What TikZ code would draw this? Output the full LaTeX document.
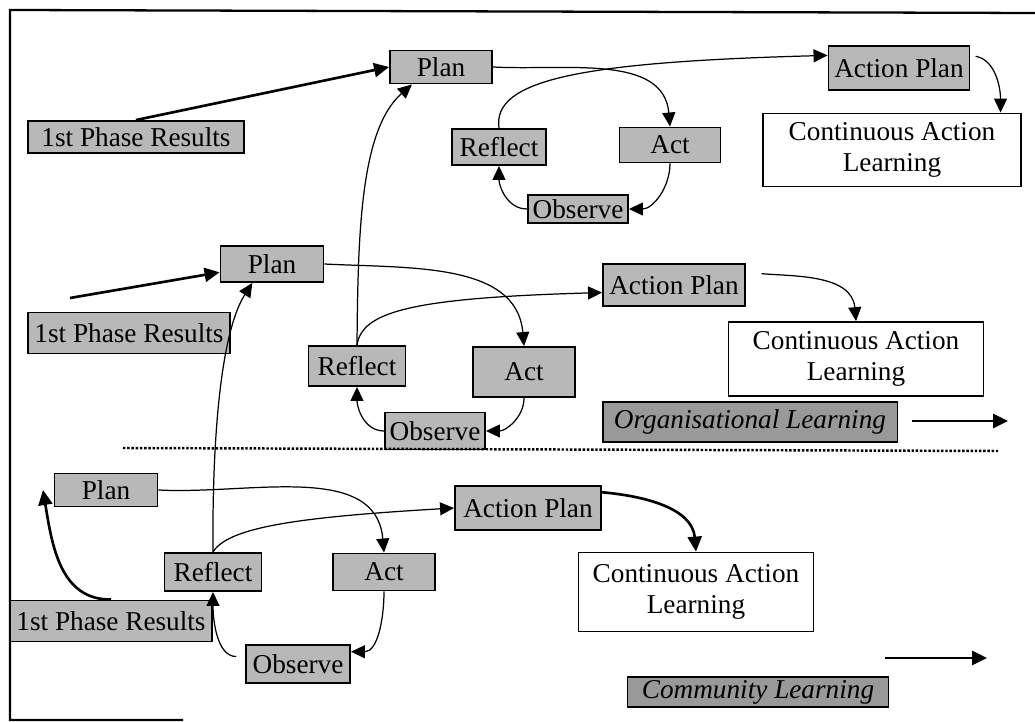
\documentclass[tikz,border=0pt]{standalone}
\usepackage{fontspec}
\setmainfont{Liberation Serif}
\usetikzlibrary{arrows.meta}

\begin{document}
\begin{tikzpicture}[
  x=0.02cm, y=-0.02cm,
  every node/.style={font=\fontsize{15.5}{18}\selectfont, inner sep=1pt},
  stagebox/.style={draw, line width=1.1pt, fill=black!28},
  outcomebox/.style={draw, line width=1pt, fill=white, align=center},
  levelbox/.style={draw, line width=1.1pt, fill=black!40, font=\fontsize{15.5}{18}\selectfont\itshape},
  arr/.style={-{Triangle[length=2.8mm, width=2.6mm]}, line width=0.7pt},
  thickarr/.style={-{Triangle[length=3mm, width=2.8mm]}, line width=1.5pt}
]
  \useasboundingbox (0,0) rectangle (1035,722);
  \draw[line width=1.3pt] (1035,13) -- (10,10) -- (10,720) -- (183,720);

  % first cycle
  \node[stagebox, minimum width=2.04cm, minimum height=0.66cm] (plan1) at (441,67) {Plan};
  \node[stagebox, minimum width=4.32cm, minimum height=0.64cm] (phase1) at (136,137) {1st Phase Results};
  \node[stagebox, minimum width=1.88cm, minimum height=0.72cm] (reflect1) at (499,147) {Reflect};
  \node[stagebox, minimum width=2.02cm, minimum height=0.70cm] (act1) at (670,145) {Act};
  \node[stagebox, minimum width=2.00cm, minimum height=0.56cm] (observe1) at (578,209) {Observe};
  \node[stagebox, minimum width=2.82cm, minimum height=0.88cm] (actplan1) at (899,68) {Action Plan};
  \node[outcomebox, minimum width=5.16cm, minimum height=1.46cm] (cal1) at (892,150) {Continuous Action\\Learning};

  % second cycle
  \node[stagebox, minimum width=2.06cm, minimum height=0.72cm] (plan2) at (272,264) {Plan};
  \node[stagebox, minimum width=4.04cm, minimum height=0.82cm] (phase2) at (129,333) {1st Phase Results};
  \node[stagebox, minimum width=1.94cm, minimum height=0.80cm] (reflect2) at (357,366) {Reflect};
  \node[stagebox, minimum width=2.04cm, minimum height=1.00cm] (act2) at (524,372) {Act};
  \node[stagebox, minimum width=2.00cm, minimum height=0.74cm] (observe2) at (435,431) {Observe};
  \node[stagebox, minimum width=2.84cm, minimum height=0.84cm] (actplan2) at (674,285) {Action Plan};
  \node[outcomebox, minimum width=5.10cm, minimum height=1.48cm] (cal2) at (856,359) {Continuous Action\\Learning};
  \node[levelbox, minimum width=5.90cm, minimum height=0.80cm] (orglearn) at (750,422) {Organisational Learning};

  % third cycle
  \node[stagebox, minimum width=2.06cm, minimum height=0.66cm] (plan3) at (106,490) {Plan};
  \node[stagebox, minimum width=1.94cm, minimum height=0.76cm] (reflect3) at (213,572) {Reflect};
  \node[stagebox, minimum width=2.04cm, minimum height=0.74cm] (act3) at (384,572) {Act};
  \node[stagebox, minimum width=2.08cm, minimum height=0.76cm] (observe3) at (298,664) {Observe};
  \node[stagebox, minimum width=4.04cm, minimum height=0.82cm] (phase3) at (111,621) {1st Phase Results};
  \node[stagebox, minimum width=2.92cm, minimum height=0.88cm] (actplan3) at (528,508) {Action Plan};
  \node[outcomebox, minimum width=4.70cm, minimum height=1.58cm] (cal3) at (696,592) {Continuous Action\\Learning};
  \node[levelbox, minimum width=5.22cm, minimum height=0.60cm] (commlearn) at (758,692) {Community Learning};

  \coordinate (feed2) at (70,298);
  \coordinate (divL) at (123,448);
  \coordinate (divR) at (998,451);
  \coordinate (orgA) at (912,421);
  \coordinate (orgB) at (1008,421);
  \coordinate (comA) at (885,658);
  \coordinate (comB) at (987,658);

  \draw[thickarr] (phase1.north) -- (plan1.west);
  \draw[arr] (plan1.east) to[out=-3, in=95] (act1.north);
  \draw[arr] (act1.south) to[out=-90, in=0] (observe1.east);
  \draw[arr] (observe1.west) to[out=180, in=-90] (reflect1.south);
  \draw[arr] (reflect1.north) .. controls (492,80) and (580,62) .. (actplan1.170);
  \draw[arr, shorten <=3pt] (actplan1.10) to[out=-10, in=90] (cal1.19);

  \draw[thickarr] (feed2) -- (plan2.189);
  \draw[arr] (plan2.east) to[out=-3, in=95] (act2.north);
  \draw[arr] (act2.south) to[out=-90, in=0] (observe2.east);
  \draw[arr] (observe2.west) to[out=180, in=-90] (reflect2.south);
  \draw[arr] (reflect2.north) .. controls (362,312) and (410,298) .. (actplan2.186);
  \draw[arr, shorten <=9pt] (actplan2.10) to[out=-5, in=95] (cal2.north);
  \draw[arr] (reflect2.north) .. controls (358,235) and (360,130) .. (plan1.-149);
  \draw[thickarr] (orgA) -- (orgB);
  \draw[line width=1.4pt, densely dotted] (divL) -- (divR);

  \draw[arr] (plan3.east) to[out=-3, in=95] (act3.north);
  \draw[arr] (act3.south) to[out=-90, in=0] (observe3.13);
  \draw[arr, shorten <=5pt] (observe3.172) to[out=180, in=-90] (reflect3.south);
  \draw[arr] (reflect3.north) .. controls (228,527) and (300,517) .. (actplan3.west);
  \draw[arr] (reflect3.north) .. controls (212,430) and (222,330) .. (plan2.224);
  \draw[thickarr] (phase3.north) .. controls (60,600) and (52,545) .. ([xshift=-6pt]plan3.west);
  \draw[thickarr] (actplan3.12) to[out=-5, in=95] (cal3.north);
  \draw[thickarr] (comA) -- (comB);
\end{tikzpicture}
\end{document}
